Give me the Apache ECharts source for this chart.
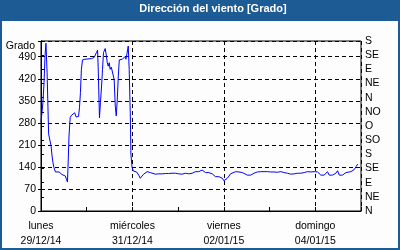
<!DOCTYPE html>
<html>
<head>
<meta charset="utf-8">
<script src="https://cdn.jsdelivr.net/npm/echarts@6/dist/echarts.min.js"></script>
<style>
html,body{margin:0;padding:0;background:#fff;}
#chart{width:400px;height:250px;}
</style>
</head>
<body>
<div id="chart"></div>
<script>
// Data (hours since lunes 29/12/14 00:00, wind direction in degrees)
const hours = [0.0,0.5,1.0,1.6,2.1,2.6,3.2,4.0,4.7,5.3,5.8,6.3,6.8,7.6,9.5,10.2,11.0,11.8,12.8,13.3,13.9,14.2,14.7,15.3,16.0,16.9,17.7,18.4,19.1,19.7,20.2,20.7,21.2,21.8,23.0,26.5,27.9,28.6,29.1,29.7,30.0,30.7,31.2,31.8,32.3,32.8,33.7,34.2,34.8,35.3,35.8,36.3,36.9,37.9,38.4,39.0,39.5,40.0,40.6,41.1,42.0,42.7,43.3,44.0,44.6,45.1,45.8,46.3,46.9,47.2,47.8,48.5,49.3,50.2,50.8,51.3,52.1,53.0,53.9,54.8,55.7,56.5,57.4,58.3,60.0,61.8,63.6,65.3,67.0,68.8,69.7,70.6,71.4,72.3,73.2,74.1,74.9,75.8,76.7,77.6,78.5,79.4,80.2,81.1,82.8,83.7,84.6,85.5,86.4,87.3,88.1,89.0,89.9,90.7,91.6,92.5,93.4,94.3,95.2,96.0,96.9,97.8,98.7,99.5,100.4,102.2,103.9,105.7,106.5,108.3,109.2,110.1,111.8,113.6,115.3,117.1,118.9,120.6,122.3,124.1,125.9,127.6,129.4,131.1,132.9,134.7,136.4,138.2,139.9,141.7,143.4,145.2,146.0,146.9,147.8,148.7,149.6,150.4,151.3,152.2,153.1,154.0,154.8,155.7,156.6,157.5,158.3,159.2,160.1,161.0,162.7,163.6,164.5,165.4,166.3];
const values = [283,312,344,408,492,533,439,245,245,206,175,153,138,124,124,125,116,111,111,101,92,143,238,296,304,301,312,299,302,300,328,376,450,480,482,484,488,490,503,511,460,296,344,397,450,503,516,498,471,460,471,450,457,460,418,333,302,349,429,480,484,482,488,490,482,498,524,450,302,181,138,127,126,124,122,114,104,109,117,122,125,124,122,118,117,118,118,119,119,120,122,120,118,118,120,117,118,120,122,118,118,120,124,125,125,126,130,125,122,125,122,120,118,114,109,111,109,111,104,96,98,104,111,118,122,125,124,122,120,114,111,114,120,124,125,125,125,124,124,123,125,122,120,117,118,120,120,122,125,124,125,124,120,114,109,114,120,125,114,120,114,113,120,128,114,113,114,118,122,125,125,128,132,141,149];

const dayHours = [0, 48, 96, 144];
const dayNames = ['lunes', 'miércoles', 'viernes', 'domingo'];
const dayDates = ['29/12/14', '31/12/14', '02/01/15', '04/01/15'];
const directions = ['N','NE','E','SE','S','SO','O','NO','N','NE','E','SE','S'];
const titleText = 'Dirección del viento [Grado]';
const unitName = 'Grado';

const FONT = "'Liberation Sans', Arial, sans-serif";
const FS = 10.5;

const chart = echarts.init(document.getElementById('chart'), null, {renderer: 'canvas'});
const option = {
  animation: false,
  graphic: [
    {type: 'rect', silent: true, z: -10, shape: {x: 0, y: 0, width: 400, height: 250}, style: {fill: '#1d5b95'}},
    {type: 'rect', silent: true, z: -9, shape: {x: 2, y: 21, width: 396, height: 227}, style: {fill: '#fdfdfd'}}
  ],
  title: {
    text: titleText,
    left: 213,
    textAlign: 'center',
    top: 3,
    padding: 0,
    textStyle: {color: '#ffffff', fontWeight: 'bold', fontSize: 11, fontFamily: FONT}
  },
  grid: {left: 41, right: 39, top: 41, bottom: 39, show: true, borderColor: '#000', borderWidth: 1, backgroundColor: 'transparent'},
  xAxis: [
    {
      type: 'value', min: 0, max: 168, interval: 24, position: 'bottom',
      axisLine: {show: true, lineStyle: {color: '#000', width: 1}},
      axisTick: {show: true, inside: true, length: 4, lineStyle: {color: '#000'}},
      splitLine: {show: false},
      axisLabel: {
        color: '#000', fontSize: FS, fontFamily: FONT, lineHeight: 15, margin: 8,
        showMaxLabel: true, showMinLabel: true,
        formatter: function (v) {
          const i = dayHours.indexOf(v);
          return i < 0 ? '' : dayNames[i] + '\n' + dayDates[i];
        }
      }
    },
    {
      type: 'value', min: 0, max: 168, interval: 48, position: 'top',
      axisLine: {show: false}, axisTick: {show: false}, axisLabel: {show: false},
      splitLine: {show: true, lineStyle: {color: '#000', type: [4, 3], width: 1}}
    }
  ],
  yAxis: [
    {
      type: 'value', min: 0, max: 540, interval: 70, position: 'left',
      name: unitName, nameLocation: 'end', nameGap: -5,
      nameTextStyle: {color: '#000', fontSize: FS, fontFamily: FONT, align: 'right', verticalAlign: 'middle', padding: [0, 6, 0, 0]},
      axisLine: {show: true, lineStyle: {color: '#000', width: 1}},
      axisTick: {show: true, inside: false, length: 3, lineStyle: {color: '#000'}},
      axisLabel: {
        color: '#000', fontSize: FS, fontFamily: FONT, margin: 5,
        formatter: function (v) { return v <= 490 ? String(v) : ''; }
      },
      splitLine: {show: true, lineStyle: {color: '#000', type: [4, 3], width: 1}}
    },
    {
      type: 'value', min: 0, max: 540, interval: 45, position: 'right',
      axisLine: {show: true, lineStyle: {color: '#000', width: 1}},
      axisTick: {show: true, inside: false, length: 3, lineStyle: {color: '#000'}},
      axisLabel: {
        color: '#000', fontSize: FS, fontFamily: FONT, margin: 4,
        formatter: function (v) { return directions[Math.round(v / 45)]; }
      },
      splitLine: {show: false}
    }
  ],
  series: [{
    type: 'line',
    xAxisIndex: 0,
    yAxisIndex: 0,
    data: hours.map((h, i) => [h, values[i]]),
    showSymbol: false,
    symbol: 'none',
    lineStyle: {color: '#0000ff', width: 1},
    z: 5
  }]
};
chart.setOption(option);
</script>
</body>
</html>
